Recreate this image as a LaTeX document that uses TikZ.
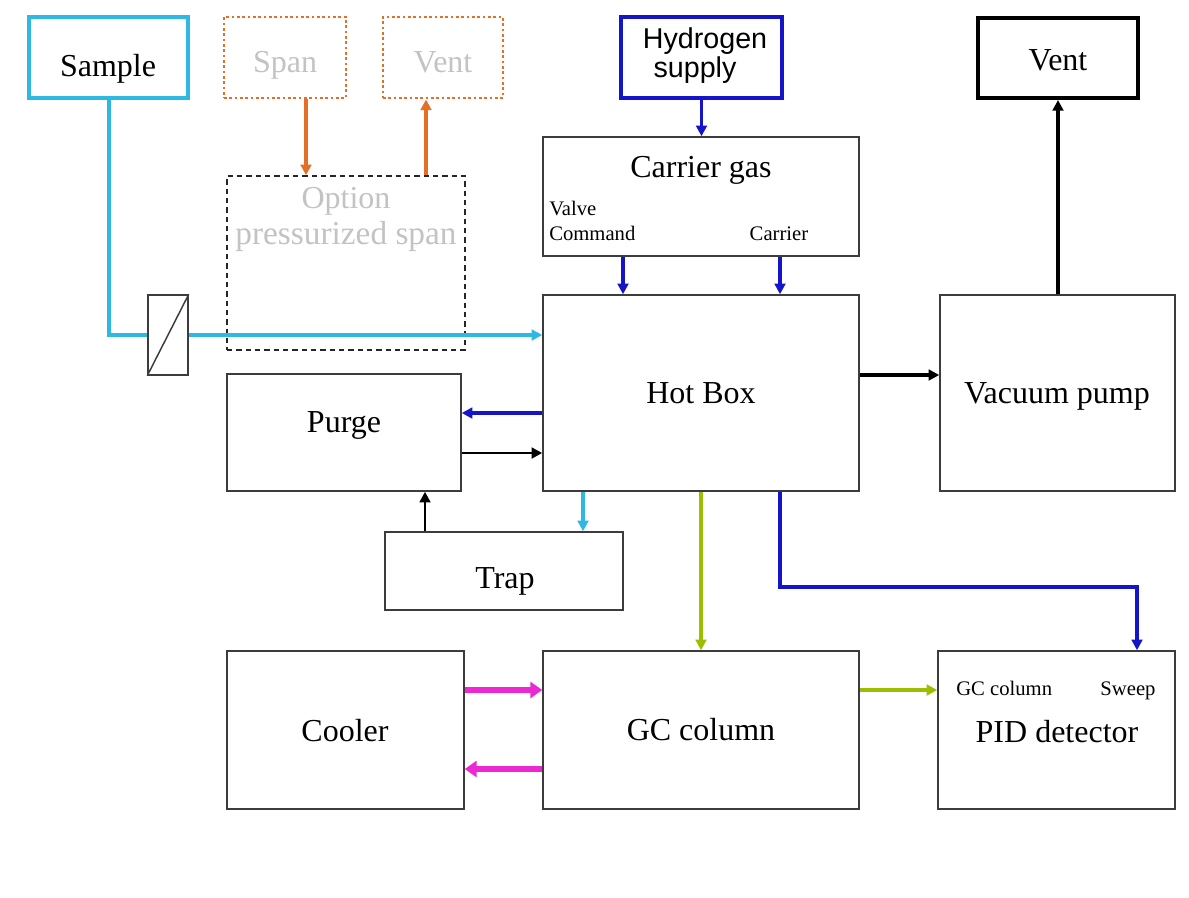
\documentclass[tikz,border=0pt]{standalone}
\usepackage{fontspec}
\setmainfont{Liberation Serif}
\newfontfamily\arialf{Liberation Sans}
\usetikzlibrary{arrows.meta,fit}
\definecolor{cyanL}{RGB}{45,185,225}
\definecolor{blueD}{RGB}{20,20,200}
\definecolor{orangeD}{RGB}{228,112,40}
\definecolor{greenY}{RGB}{155,190,0}
\definecolor{magentaD}{RGB}{235,40,210}
\definecolor{greyT}{RGB}{195,195,195}
\definecolor{boxline}{RGB}{60,60,60}
\begin{document}
\begin{tikzpicture}[x=0.75pt,y=-0.75pt,
  box/.style={draw=boxline,line width=1.1pt,inner sep=0pt,fill=none},
  big/.style={inner sep=0pt,anchor=base,font=\fontsize{24}{28}\selectfont},
  small/.style={inner sep=0pt,anchor=base,font=\fontsize{15.5}{18}\selectfont},
  arr/.style={-{Triangle[length=8pt,width=8pt]}},
  cyanarr/.style={arr,draw=cyanL,line width=3pt},
  bluearr/.style={arr,draw=blueD,line width=2.5pt},
  orangearr/.style={arr,draw=orangeD,line width=2.5pt},
  greenarr/.style={arr,draw=greenY,line width=2.5pt},
  blackarr/.style={arr,draw=black,line width=2pt},
  thickblack/.style={arr,draw=black,line width=3pt},
  magarr/.style={-{Triangle[length=9pt,width=12pt]},draw=magentaD,line width=4.5pt}
]
\useasboundingbox (0,0) rectangle (1189,897);
\fill[white] (0,0) rectangle (1189,897);

% top boxes
\node[box,draw=cyanL,line width=3pt,fit={(29,17)(188,98)}] (sample) {};
\node[big] (sampleT) at (108,76) {Sample};
\node[box,draw=orangeD,line width=2.2pt,dash pattern=on 2pt off 2pt,fit={(224,17)(346,98)}] (span) {};
\node[big,text=greyT] (spanT) at (285,72) {Span};
\node[box,draw=orangeD,line width=2.2pt,dash pattern=on 2pt off 2pt,fit={(383,17)(503,98)}] (ventO) {};
\node[big,text=greyT] (ventOT) at (443,72) {Vent};
\node[box,draw=blueD,line width=2.6pt,fit={(621,17)(782,98)}] (hyd) {};
\node[inner sep=0pt,anchor=base,font=\arialf\fontsize{21.5}{18}\selectfont] (hydT1) at (705,48) {Hydrogen};
\node[inner sep=0pt,anchor=base,font=\arialf\fontsize{21.5}{18}\selectfont] (hydT2) at (695,77) {supply};
\node[box,draw=black,line width=3pt,fit={(978,18)(1138,98)}] (vent) {};
\node[big] (ventT) at (1058,70) {Vent};

% option box
\node[box,draw=black!85,line width=1.1pt,dash pattern=on 4pt off 3pt,fit={(227,176)(465,350)}] (opt) {};
\node[big,text=greyT] (optT1) at (346,208) {Option};
\node[big,text=greyT,font=\fontsize{25}{28}\selectfont] (optT2) at (346,244) {pressurized span};

% carrier gas
\node[box,fit={(543,137)(859,256)}] (carrier) {};
\node[big] (carrierT) at (701,177) {Carrier gas};
\node[small,anchor=base west] (valveT) at (549,215) {Valve};
\node[small,anchor=base west] (cmdT) at (549,240) {Command};
\node[small] (carT) at (779,240) {Carrier};

% valve
\node[box,fit={(148,295)(188,375)}] (valve) {};
\draw[boxline,line width=1.1pt] (valve.south west) -- (valve.north east);

% main boxes
\node[box,fit={(543,295)(859,491)}] (hot) {};
\node[big] (hotT) at (701,403) {Hot Box};
\node[box,fit={(940,295)(1175,491)}] (vac) {};
\node[big] (vacT) at (1057,403) {Vacuum pump};
\node[box,fit={(227,374)(461,491)}] (purge) {};
\node[big] (purgeT) at (344,432) {Purge};
\node[box,fit={(385,532)(623,610)}] (trap) {};
\node[big] (trapT) at (505,588) {Trap};
\node[box,fit={(227,651)(464,809)}] (cooler) {};
\node[big] (coolerT) at (345,741) {Cooler};
\node[box,fit={(543,651)(859,809)}] (gc) {};
\node[big] (gcT) at (701,740) {GC column};
\node[box,fit={(938,651)(1175,809)}] (pid) {};
\node[big] (pidT) at (1057,742) {PID detector};
\node[small,anchor=base west] (pidGC) at (956,695) {GC column};
\node[small] (pidSw) at (1128,695) {Sweep};

% connectors
\draw[cyanL,line width=3pt] (sample.south) -- (sample.south |- valve.west) -- (valve.west);
\draw[cyanarr] (valve.east) -- (valve.east -| hot.west);
\draw[orangearr] (306,0 |- span.south) -- (306,0 |- opt.north);
\draw[orangearr] (426,0 |- opt.north) -- (426,0 |- ventO.south);
\draw[bluearr] (hyd.south) -- (hyd.south |- carrier.north);
\draw[bluearr] (623,0 |- carrier.south) -- (623,0 |- hot.north);
\draw[bluearr] (780,0 |- carrier.south) -- (780,0 |- hot.north);
\draw[thickblack] (vac.north -| vent.south) -- (vent.south);
\draw[thickblack] (hot.east |- 0,375) -- (vac.west |- 0,375);
\draw[bluearr] (hot.west |- 0,413) -- (purge.east |- 0,413);
\draw[blackarr] (purge.east |- 0,453) -- (hot.west |- 0,453);
\draw[blackarr] (425,0 |- trap.north) -- (425,0 |- purge.south);
\draw[cyanarr,line width=2.5pt] (583,0 |- hot.south) -- (583,0 |- trap.north);
\draw[greenarr] (hot.south) -- (gc.north);
\draw[bluearr] (780,0 |- hot.south) -- (780,587) -- (1137,587) -- (1137,0 |- pid.north);
\draw[magarr] (cooler.east |- 0,690) -- (gc.west |- 0,690);
\draw[magarr] (gc.west |- 0,769) -- (cooler.east |- 0,769);
\draw[greenarr] (gc.east |- 0,690) -- (pid.west |- 0,690);
\end{tikzpicture}
\end{document}
